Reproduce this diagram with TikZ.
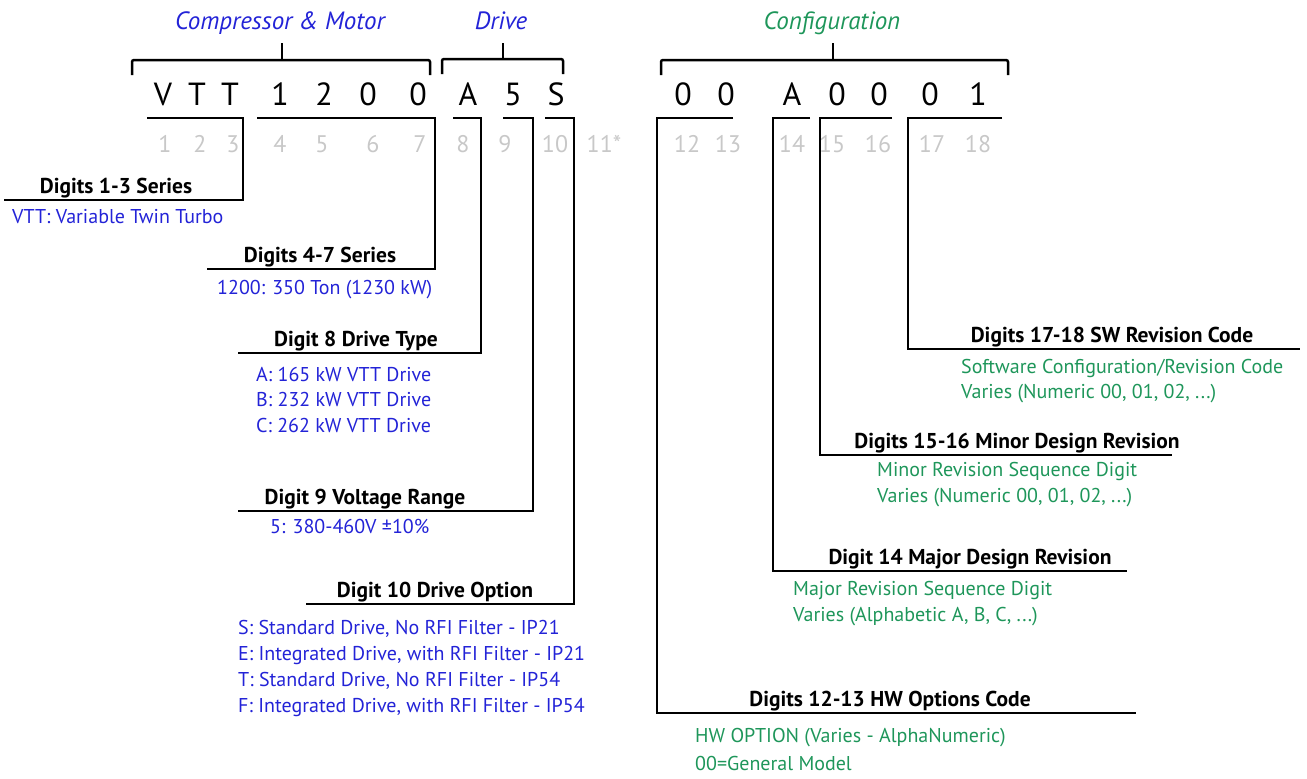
\documentclass[tikz,border=0pt]{standalone}
\usepackage{fontspec}
\setmainfont{PT Sans}
\usepackage{tikz}
\usetikzlibrary{positioning}

\definecolor{codeblue}{RGB}{35,35,215}
\definecolor{codegreen}{RGB}{30,150,90}
\definecolor{digitgray}{RGB}{200,200,200}

\tikzset{
  letter/.style={font=\fontsize{32}{32}\selectfont, inner sep=0pt, anchor=base},
  digitno/.style={font=\fontsize{24}{24}\selectfont, text=digitgray, inner sep=0pt, anchor=base},
  grouphead/.style={font=\fontsize{25}{25}\selectfont\itshape, inner sep=0pt, anchor=base},
  fieldtitle/.style={font=\fontsize{21.5}{21.5}\selectfont\bfseries, inner sep=0pt, anchor=base},
  fielddesc/.style={font=\fontsize{20}{20}\selectfont, inner sep=0pt, anchor=base west},
  codeline/.style={line width=2.5pt},
}

\begin{document}
\begin{tikzpicture}[x=1pt, y=-1pt]
	\useasboundingbox (0,0) rectangle (1307,779);
	% group headings
	\node[grouphead, text=codeblue] (cm) at (280, 29) {Compressor \& Motor};
	\node[grouphead, text=codeblue] (drv) at (501, 29) {Drive};
	\node[grouphead, text=codegreen] (cfg) at (832, 29) {Configuration};
	% code letters
	\node[letter] (l1) at (163, 105) {V};
	\node[letter] (l2) at (197, 105) {T};
	\node[letter] (l3) at (230, 105) {T};
	\node[letter] (l4) at (280, 105) {1};
	\node[letter] (l5) at (324, 105) {2};
	\node[letter] (l6) at (368, 105) {0};
	\node[letter] (l7) at (418, 105) {0};
	\node[letter] (l8) at (468, 105) {A};
	\node[letter] (l9) at (513, 105) {5};
	\node[letter] (l10) at (556, 105) {S};
	\node[letter] (l12) at (683, 105) {0};
	\node[letter] (l13) at (726, 105) {0};
	\node[letter] (l14) at (792, 105) {A};
	\node[letter] (l15) at (837, 105) {0};
	\node[letter] (l16) at (879, 105) {0};
	\node[letter] (l17) at (930, 105) {0};
	\node[letter] (l18) at (978, 105) {1};
	% digit positions
	\node[digitno] (n1) at (165, 152) {1};
	\node[digitno] (n2) at (200, 152) {2};
	\node[digitno] (n3) at (233, 152) {3};
	\node[digitno] (n4) at (280, 152) {4};
	\node[digitno] (n5) at (322, 152) {5};
	\node[digitno] (n6) at (373, 152) {6};
	\node[digitno] (n7) at (420, 152) {7};
	\node[digitno] (n8) at (463, 152) {8};
	\node[digitno] (n9) at (505, 152) {9};
	\node[digitno] (n10) at (555, 152) {10};
	\node[digitno] (n11) at (604, 152) {11*};
	\node[digitno] (n12) at (687, 152) {12};
	\node[digitno] (n13) at (728, 152) {13};
	\node[digitno] (n14) at (792, 152) {14};
	\node[digitno] (n15) at (832, 152) {15};
	\node[digitno] (n16) at (878, 152) {16};
	\node[digitno] (n17) at (932, 152) {17};
	\node[digitno] (n18) at (978, 152) {18};
	% top brackets
	\coordinate (cmL) at (132, 75);
	\coordinate (cmR) at (430, 75);
	\coordinate (cmT) at (282, 43);
	\coordinate (drvL) at (442, 74);
	\coordinate (drvR) at (563, 74);
	\coordinate (drvT) at (503, 43);
	\coordinate (cfgL) at (661, 75);
	\coordinate (cfgR) at (1008, 75);
	\coordinate (cfgT) at (833, 43);
	\draw[codeline, rounded corners=2pt] (cmL) -- ++(0,-15) -| (cmR);
	\draw[codeline] (cmT) -- ++(0,17);
	\draw[codeline, rounded corners=2pt] (drvL) -- ++(0,-15) -| (drvR);
	\draw[codeline] (drvT) -- ++(0,16);
	\draw[codeline, rounded corners=2pt] (cfgL) -- ++(0,-15) -| (cfgR);
	\draw[codeline] (cfgT) -- ++(0,17);
	% field titles
	\node[fieldtitle] (s13) at (116, 193) {Digits 1-3 Series};
	\node[fieldtitle] (s47) at (320, 262) {Digits 4-7 Series};
	\node[fieldtitle] (s8) at (356, 346) {Digit 8 Drive Type};
	\node[fieldtitle] (s9) at (365, 504) {Digit 9 Voltage Range};
	\node[fieldtitle] (s10) at (435, 597) {Digit 10 Drive Option};
	\node[fieldtitle] (s1213) at (890, 706) {Digits 12-13 HW Options Code};
	\node[fieldtitle] (s14) at (970, 564) {Digit 14 Major Design Revision};
	\node[fieldtitle] (s1516) at (1017, 448) {Digits 15-16 Minor Design Revision};
	\node[fieldtitle] (s1718) at (1112, 342) {Digits 17-18 SW Revision Code};
	% field brackets
	\coordinate (b13) at (147, 118);
	\coordinate (k13) at (243, 118);
	\coordinate (e13) at (4, 200);
	\coordinate (b47) at (257, 118);
	\coordinate (k47) at (435, 118);
	\coordinate (e47) at (207, 269);
	\coordinate (b8) at (453, 118);
	\coordinate (k8) at (481, 118);
	\coordinate (e8) at (238, 353);
	\coordinate (b9) at (503, 118);
	\coordinate (k9) at (533, 118);
	\coordinate (e9) at (238, 511);
	\coordinate (b10) at (545, 118);
	\coordinate (k10) at (574, 118);
	\coordinate (e10) at (306, 604);
	\coordinate (b1213) at (733, 118);
	\coordinate (k1213) at (657, 118);
	\coordinate (e1213) at (1136, 713);
	\coordinate (b14) at (810, 118);
	\coordinate (k14) at (773, 118);
	\coordinate (e14) at (1127, 571);
	\coordinate (b1516) at (892, 118);
	\coordinate (k1516) at (820, 118);
	\coordinate (e1516) at (1172, 455);
	\coordinate (b1718) at (1002, 118);
	\coordinate (k1718) at (908, 118);
	\coordinate (e1718) at (1300, 349);
	\draw[codeline] (b13) -- (k13) |- (e13);
	\draw[codeline] (b47) -- (k47) |- (e47);
	\draw[codeline] (b8) -- (k8) |- (e8);
	\draw[codeline] (b9) -- (k9) |- (e9);
	\draw[codeline] (b10) -- (k10) |- (e10);
	\draw[codeline] (b1213) -- (k1213) |- (e1213);
	\draw[codeline] (b14) -- (k14) |- (e14);
	\draw[codeline] (b1516) -- (k1516) |- (e1516);
	\draw[codeline] (b1718) -- (k1718) |- (e1718);
	% descriptions
	\node[fielddesc, text=codeblue] (d13) at (12, 223) {VTT: Variable Twin Turbo};
	\node[fielddesc, text=codeblue] (d47) at (217, 294) {1200: 350 Ton (1230 kW)};
	\node[fielddesc, text=codeblue] (d8a) at (256, 381) {A: 165 kW VTT Drive};
	\node[fielddesc, text=codeblue] (d8b) at (256, 406) {B: 232 kW VTT Drive};
	\node[fielddesc, text=codeblue] (d8c) at (256, 432) {C: 262 kW VTT Drive};
	\node[fielddesc, text=codeblue] (d9) at (270, 533) {5: 380-460V ±10\%};
	\node[fielddesc, text=codeblue] (d10a) at (238, 634) {S: Standard Drive, No RFI Filter - IP21};
	\node[fielddesc, text=codeblue] (d10b) at (238, 660) {E: Integrated Drive, with RFI Filter - IP21};
	\node[fielddesc, text=codeblue] (d10c) at (238, 686) {T: Standard Drive, No RFI Filter - IP54};
	\node[fielddesc, text=codeblue] (d10d) at (238, 712) {F: Integrated Drive, with RFI Filter - IP54};
	\node[fielddesc, text=codegreen] (d1718a) at (961, 373) {Software Configuration/Revision Code};
	\node[fielddesc, text=codegreen] (d1718b) at (961, 398) {Varies (Numeric 00, 01, 02, ...)};
	\node[fielddesc, text=codegreen] (d1516a) at (877, 476) {Minor Revision Sequence Digit};
	\node[fielddesc, text=codegreen] (d1516b) at (877, 502) {Varies (Numeric 00, 01, 02, ...)};
	\node[fielddesc, text=codegreen] (d14a) at (793, 595) {Major Revision Sequence Digit};
	\node[fielddesc, text=codegreen] (d14b) at (793, 621) {Varies (Alphabetic A, B, C, ...)};
	\node[fielddesc, text=codegreen] (d1213a) at (695, 742) {HW OPTION (Varies - AlphaNumeric)};
	\node[fielddesc, text=codegreen] (d1213b) at (695, 770) {00=General Model};
\end{tikzpicture}
\end{document}
